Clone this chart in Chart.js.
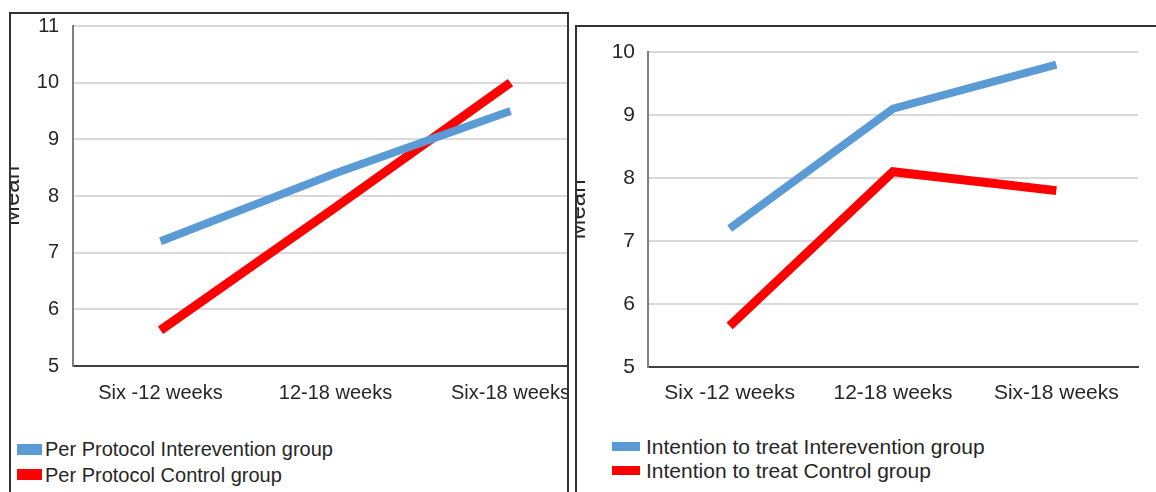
<!DOCTYPE html>
<html>
<head>
<meta charset="utf-8">
<script src="https://cdn.jsdelivr.net/npm/chart.js@4"></script>
<style>
    body { margin: 0; width: 1156px; height: 492px; background: #fff; overflow: hidden; position: relative; font-family: "Liberation Sans", Arial, sans-serif; }
    .panel { position: absolute; overflow: hidden; background: #fff; }
    .frame { position: absolute; border: 2px solid #333; box-sizing: border-box; pointer-events: none; }
    .panel canvas { position: absolute; }
    .legend { position: absolute; color: #262626; }
    .legend .box { position: absolute; }
    .legend .txt { position: absolute; white-space: nowrap; }
</style>
</head>
<body>
<div class="panel" id="leftPanel" style="left:9px; top:12px; width:558px; height:490px;">
    <canvas id="leftChart" style="left:-9px; top:-12px;"></canvas>
    <div class="legend" id="leftLegend" style="left:-9px; top:-12px;"></div>
</div>
<div class="frame" style="left:9px; top:12px; width:560px; height:500px;"></div>

<div class="panel" id="rightPanel" style="left:575px; top:25px; width:600px; height:480px;">
    <canvas id="rightChart" style="left:-9px; top:-25px;"></canvas>
    <div class="legend" id="rightLegend" style="left:-575px; top:-25px;"></div>
</div>
<div class="frame" style="left:575px; top:25px; width:600px; height:500px;"></div>

<script>
// Data
const categories = ['Six -12 weeks', '12-18 weeks', 'Six-18 weeks'];

const ppLabels = ['Per Protocol Interevention group', 'Per Protocol Control group'];
const ppIntervention = [7.2, 8.4, 9.5];
const ppControl = [5.63, 7.8, 10.0];

const ittLabels = ['Intention to treat Interevention group', 'Intention to treat Control group'];
const ittIntervention = [7.2, 9.1, 9.8];
const ittControl = [5.65, 8.1, 7.8];

const leftTicks = { min: 5, max: 11 };
const rightTicks = { min: 5, max: 10 };

const BLUE = '#5b9bd5';
const RED = '#ff0000';
const FONT = 'Liberation Sans';

function makeChart(canvasId, w, h, labels, seriesA, seriesB, range, cfg) {
    const cv = document.getElementById(canvasId);
    cv.width = w;
    cv.height = h;
    cv.style.width = w + 'px';
    cv.style.height = h + 'px';
    return new Chart(cv.getContext('2d'), {
        type: 'line',
        data: {
            labels: categories,
            datasets: [
                { label: labels[0], data: seriesA, borderColor: BLUE, borderWidth: 8, pointRadius: 0, tension: 0, borderCapStyle: 'butt', borderJoinStyle: 'miter' },
                { label: labels[1], data: seriesB, borderColor: RED, borderWidth: 9, pointRadius: 0, tension: 0, borderCapStyle: 'butt', borderJoinStyle: 'miter' }
            ]
        },
        options: {
            responsive: false,
            animation: false,
            layout: { padding: cfg.pad },
            plugins: { legend: { display: false }, tooltip: { enabled: false } },
            scales: {
                x: {
                    offset: true,
                    grid: { display: false, drawTicks: false },
                    border: { color: '#404040', width: 2 },
                    ticks: { color: '#262626', padding: cfg.xPad, font: { family: FONT, size: cfg.fontSize }, maxRotation: 0, autoSkip: false },
                    afterFit: (scale) => { scale.height = 40; }
                },
                y: {
                    min: range.min,
                    max: range.max,
                    grid: {
                        drawTicks: false,
                        lineWidth: 2,
                        color: (c) => (c.tick && c.tick.value === range.min) ? 'rgba(0,0,0,0)' : '#d9d9d9'
                    },
                    border: { color: '#7f7f7f', width: 2 },
                    ticks: { stepSize: 1, color: '#262626', padding: cfg.yPad, font: { family: FONT, size: cfg.fontSize } },
                    title: { display: true, text: 'Mean', color: '#262626', padding: 0, font: { family: FONT, size: 24, lineHeight: 1 } },
                    afterFit: (scale) => { scale.width = cfg.yWidth; }
                }
            }
        }
    });
}

function makeLegend(id, labels, colors, cfg) {
    const el = document.getElementById(id);
    labels.forEach((lab, i) => {
        const cy = cfg.y0 + i * cfg.step;
        const box = document.createElement('div');
        box.className = 'box';
        box.style.cssText = `left:${cfg.x}px; top:${cy - cfg.boxH / 2}px; width:${cfg.boxW}px; height:${cfg.boxH}px; background:${colors[i]};`;
        const txt = document.createElement('div');
        txt.className = 'txt';
        txt.textContent = lab;
        txt.style.cssText = `left:${cfg.textX}px; top:${cy - cfg.fontSize / 2}px; font-size:${cfg.fontSize}px; line-height:${cfg.fontSize}px;`;
        el.appendChild(box);
        el.appendChild(txt);
    });
}

// left chart: canvas in page coords (0,0), plot area 73..598 x 24..366
makeChart('leftChart', 612, 406, ppLabels, ppIntervention, ppControl, leftTicks,
    { yWidth: 73, pad: { left: 0, top: 24, right: 14, bottom: 0 }, fontSize: 20, xPad: 15, yPad: 14 });
// right chart: canvas starts at page x=566, plot area 648..1138 x 52..367
makeChart('rightChart', 590, 407, ittLabels, ittIntervention, ittControl, rightTicks,
    { yWidth: 82, pad: { left: 0, top: 52, right: 18, bottom: 0 }, fontSize: 21, xPad: 14, yPad: 13 });

makeLegend('leftLegend', ppLabels, [BLUE, RED], { x: 17, y0: 449, step: 25.5, boxW: 25, boxH: 11, textX: 45, fontSize: 20 });
makeLegend('rightLegend', ittLabels, [BLUE, RED], { x: 612, y0: 446, step: 24, boxW: 28, boxH: 9, textX: 646, fontSize: 21 });
</script>
</body>
</html>
